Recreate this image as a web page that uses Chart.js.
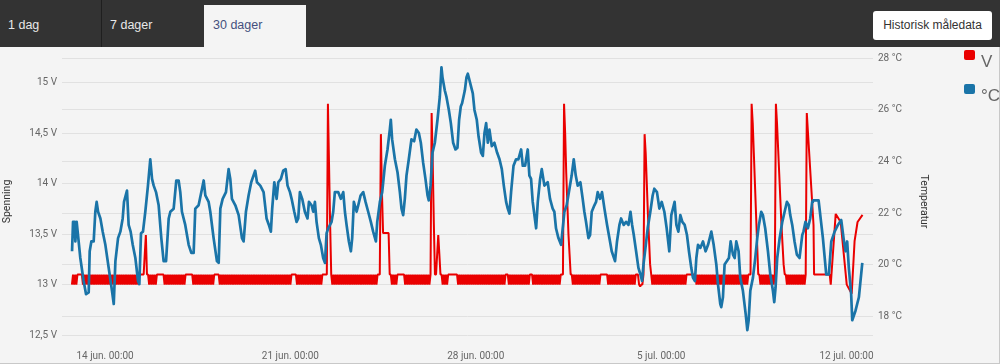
<!DOCTYPE html>
<html>
<head>
<meta charset="utf-8">
<script src="https://cdn.jsdelivr.net/npm/chart.js@4.4.0/dist/chart.umd.min.js"></script>
<style>
  body { margin: 0; width: 1000px; height: 364px; overflow: hidden; position: relative; background: #f4f4f4; font-family: "Liberation Sans", Arial, sans-serif; }
  .topbar { position: absolute; left: 0; top: 0; width: 1000px; height: 47px; background: #333; }
  .tab { position: absolute; top: 0; height: 47px; line-height: 51px; font-size: 12.5px; color: #e8e8e8; }
  .tab.active { top: 5px; height: 42px; line-height: 41px; background: #f4f4f4; color: #45507e; }
  .divider { position: absolute; left: 101px; top: 0; width: 1px; height: 47px; background: #1f1f1f; }
  .btn { position: absolute; left: 873px; top: 11px; width: 119px; height: 29px; background: #fff; border-radius: 3px; font-size: 12px; line-height: 29px; text-align: center; color: #333; }
  .panel { position: absolute; left: 0; top: 47px; width: 999px; height: 316px; border-right: 1px solid #c8c8c8; border-bottom: 1px solid #c8c8c8; }
  .chartbox { position: absolute; left: 0; top: 47px; width: 1000px; height: 317px; }
  #legend { position: absolute; left: 964px; top: 49px; }
  .item { position: relative; height: 34px; }
  .swatch { position: absolute; left: 0; top: 1px; width: 11px; height: 10px; border-radius: 2px; }
  .lbl { position: absolute; left: 17px; top: 3px; font-size: 17px; line-height: 20px; color: #666; white-space: nowrap; }
</style>
</head>
<body>
<div class="topbar">
  <div class="tab" style="left:8px">1 dag</div>
  <div class="divider"></div>
  <div class="tab" style="left:110px">7 dager</div>
  <div class="tab active" style="left:204px;width:93px;padding-left:9px">30 dager</div>
  <div class="btn">Historisk måledata</div>
</div>
<div class="panel"></div>
<div class="chartbox"><canvas id="maaleChart"></canvas></div>
<div id="legend"></div>
<script>
// hours counted from 14 jun. 00:00
const xTickHours = [0, 168, 336, 504, 672];
const xTickLabels = ["14 jun. 00:00", "21 jun. 00:00", "28 jun. 00:00", "5 jul. 00:00", "12 jul. 00:00"];
const voltTicks = [12.5, 13, 13.5, 14, 14.5, 15];
const tempTicks = [18, 20, 22, 24, 26, 28];

const tempHours = [
  -29.9, -29.0, -27.5, -26.9, -25.7, -24.8, -22.4, -19.4, -17.2, -14.8, -13.9, -12.4, -10.3, -8.8, -7.6, -6.3, -4.2, -2.1,
  0.3, 3.3, 6.3, 7.9, 9.4, 11.8, 13.9, 16.0, 17.2, 19.9, 21.4, 23.2, 25.1, 27.5, 29.9, 31.1, 32.6, 34.4, 36.5, 38.9,
  41.0, 42.6, 44.1, 46.2, 48.6, 51.0, 53.1, 55.3, 57.7, 59.2, 62.2, 64.6, 66.7, 68.2, 69.7, 72.7, 75.8, 78.2, 80.3,
  81.8, 84.8, 87.9, 89.4, 90.9, 93.9, 95.4, 98.4, 101.4, 103.0, 104.5, 106.6, 109.6, 112.0, 113.5, 115.0, 118.1,
  121.1, 124.1, 125.6, 127.7, 130.1, 132.5, 136.1, 137.7, 140.7, 143.7,
  146.4, 148.5, 150.3, 151.5, 153.4, 155.5, 157.0, 159.4, 161.5, 163.7, 165.4, 167.6, 169.1, 171.5, 173.6, 175.1,
  176.6, 178.7, 181.1, 183.5, 184.8, 187.2, 188.7, 190.2, 191.7, 193.8, 195.6, 197.7, 199.3, 200.8, 202.3, 205.3,
  206.8, 208.3, 211.3, 213.7, 215.9, 217.4, 218.9, 221.0, 222.8, 224.0, 225.5, 228.0, 229.5, 231.6, 234.0, 236.1,
  238.5, 240.9, 243.0, 245.5, 246.7, 249.1, 251.2, 253.6, 256.0, 258.1, 259.0, 260.2, 262.7, 265.1, 267.2, 268.7,
  270.2, 271.7, 273.2, 275.3, 277.7, 280.1, 282.2, 284.4, 286.2, 288.3, 290.4, 292.3, 293.4, 295.0, 296.8, 298.9,
  301.3, 303.4, 304.9, 305.8, 307.9, 309.4, 311.6, 313.4, 315.5, 317.6, 319.4, 320.9, 322.4, 323.6, 326.1, 327.6,
  328.8, 330.3, 331.8, 333.3, 334.8, 336.9, 338.5, 340.8, 342.4, 343.9, 345.4, 346.9, 348.4, 350.5, 352.9, 355.3,
  357.5, 359.6, 361.4, 363.5, 365.0, 366.5, 368.0, 370.2, 372.5, 374.6, 377.1, 378.6, 380.7, 383.1, 384.6, 386.1,
  387.6, 390.7, 392.2, 394.3, 395.8, 398.2, 401.2, 403.3, 405.7, 407.2, 408.7, 410.9, 413.3, 416.3, 418.4, 420.9,
  422.9, 424.8, 426.6, 428.4, 430.8, 432.9, 434.4, 435.9, 438.1, 439.6, 441.1, 443.5, 445.0, 446.5, 448.6, 450.4,
  452.6, 455.0, 457.1, 459.2, 462.2, 464.0, 466.2, 467.7, 470.1, 472.2, 474.4, 476.2, 477.7, 479.2, 481.3, 483.4,
  485.2, 486.7, 488.0, 489.8, 491.8, 494.2, 496.3, 497.8, 500.2, 502.4, 504.5, 506.9, 509.0, 511.4,
  513.2, 514.7, 516.2, 517.8, 519.6, 521.4, 523.2, 525.3, 527.4, 529.2, 531.3, 532.8, 534.6, 535.9, 537.4, 539.5,
  541.9, 544.3, 546.5, 549.5, 551.6, 554.0, 555.5, 557.6, 558.5, 560.0, 561.5, 563.6, 565.4, 567.0, 569.1, 570.6,
  572.1, 574.2, 575.7, 578.1, 580.6, 582.1, 583.3, 584.8, 587.2, 589.3, 591.1, 592.6, 594.7, 596.2, 598.3, 600.8,
  602.9, 605.3, 606.5, 607.7, 609.2, 611.4, 613.8, 615.9, 618.0, 619.8, 621.0, 622.8, 624.9, 627.0, 629.4, 631.9,
  633.0, 634.8, 637.0, 639.1, 640.9, 641.5, 646.7, 650.6, 653.6, 656.0, 658.2, 661.2, 664.2, 667.2, 669.3, 671.1,
  672.6, 674.1, 676.2, 677.2, 680.2, 683.2, 686.3
];
const tempValues = [
  20.52, 21.66, 21.66, 20.90, 21.66, 21.28, 20.26, 19.37, 18.86, 18.93, 20.52, 20.90, 20.90, 22.05, 22.43, 22.05, 21.79, 21.28,
  20.77, 19.88, 18.99, 18.48, 20.14, 21.03, 21.28, 21.79, 22.43, 22.87, 21.54, 21.28, 20.77, 20.26, 19.37, 19.25, 21.22, 21.28, 22.05, 23.06,
  24.08, 23.32, 23.06, 22.81, 22.30, 21.03, 20.14, 20.14, 21.79, 22.05, 22.17, 23.26, 23.26, 22.81, 22.05, 21.54, 20.77, 20.46, 20.46,
  22.17, 22.30, 22.94, 23.26, 22.68, 22.43, 22.05, 21.03, 20.14, 20.07, 22.17, 22.55, 22.81, 23.70, 23.32, 22.55, 22.30,
  21.92, 21.03, 20.90, 22.05, 22.68, 23.19, 23.64, 23.19, 23.06, 22.81,
  21.79, 21.54, 21.28, 22.17, 23.19, 22.55, 23.19, 23.32, 23.64, 23.70, 23.06, 22.81, 22.55, 22.05, 21.66, 21.79,
  22.81, 22.55, 22.05, 21.79, 22.43, 22.30, 22.05, 22.43, 21.66, 21.03, 20.77, 20.26, 20.07, 21.22, 21.41, 21.66,
  22.05, 22.81, 22.81, 22.55, 22.81, 22.05, 21.54, 20.90, 20.52, 21.03, 22.43, 22.05, 22.30, 22.68, 22.81, 22.43,
  22.05, 21.66, 21.28, 20.90, 21.66, 22.43, 22.81, 23.83, 24.46, 25.23, 25.61, 24.85, 24.08, 23.57, 22.81, 22.17,
  21.92, 22.55, 23.45, 24.08, 24.85, 24.78, 25.23, 25.10, 24.72, 23.95, 23.32, 22.68, 22.49, 23.06, 24.34, 24.72,
  25.61, 26.50, 27.64, 27.26, 26.75, 26.50, 25.99, 25.48, 24.72, 24.46, 24.53, 25.61, 26.12, 26.25, 26.75, 27.26,
  27.39, 27.14, 26.88, 26.63, 25.99, 25.61, 24.97, 24.34, 24.21, 25.10, 25.48, 24.72, 25.23, 24.59, 24.72, 24.34,
  24.08, 23.70, 23.06, 22.43, 22.17, 21.98, 22.81, 23.83, 24.08, 24.08, 24.46, 23.83, 23.83, 24.46, 23.45, 23.32,
  22.43, 21.41, 22.43, 23.32, 23.70, 23.06, 23.19, 22.55, 22.17, 22.05, 21.41, 21.03, 20.77, 22.05, 22.30, 22.94,
  23.45, 24.08, 23.45, 23.06, 23.19, 22.55, 22.05, 21.66, 21.03, 21.15, 22.05, 22.30, 22.43, 22.81, 22.55, 22.81,
  22.17, 21.54, 21.03, 20.52, 20.14, 20.90, 21.54, 21.79, 21.54, 21.66, 21.54, 22.05, 21.54, 21.15, 20.52, 19.88,
  19.63, 19.37, 20.01, 20.65, 21.41, 22.05, 22.68, 22.94, 22.81, 22.17, 22.43, 22.05, 21.41, 20.52,
  21.92, 22.17, 22.43, 21.54, 21.28, 21.92, 21.66, 21.54, 21.15, 20.52, 19.88, 19.50, 19.37, 20.26, 20.77, 20.65,
  20.90, 20.52, 20.77, 21.28, 20.77, 20.01, 19.25, 18.48, 18.36, 18.74, 20.01, 20.14, 20.26, 20.90, 20.39, 20.26,
  20.90, 20.52, 19.50, 18.99, 18.10, 17.47, 17.85, 18.99, 19.50, 20.26, 21.03, 21.54, 22.05, 21.92, 21.41, 20.52,
  19.63, 18.99, 18.55, 19.12, 20.26, 21.03, 21.66, 22.05, 22.43, 22.30, 21.92, 21.54, 20.90, 20.39, 20.26, 21.15,
  21.28, 21.66, 21.41, 21.79, 22.43, 22.49, 22.49, 21.03, 19.63, 19.63, 20.90, 21.28, 21.54, 21.73, 21.03, 20.52,
  20.90, 19.88, 18.86, 17.85, 18.23, 18.74, 20.07
];

// voltage logged every hour from 12 jun. 18:00, then a few sparse readings at the end
const voltStartHour = -30;
const voltStepHours = 1;
const voltValues = [
  13, 13.1, 13, 13.1, 13, 13.1,
  13.1, 13.1, 13.1, 13.1,
  13, 13.1, 13, 13.1, 13, 13.1, 13, 13.1, 13, 13.1, 13, 13.1, 13, 13.1, 13, 13.1,
  13, 13.1, 13, 13.1, 13, 13.1, 13, 13.1, 13, 13.1, 13, 13.1, 13, 13.1, 13, 13.1,
  13, 13.1, 13, 13.1, 13, 13.1, 13, 13.1, 13, 13.1, 13, 13.1, 13, 13.1, 13, 13.1,
  13, 13.1, 13, 13.1,
  13.1, 13.1, 13.1, 13.1,
  13.3, 13.49, 13.1, 13.1,
  13, 13.1, 13, 13.1, 13, 13.1, 13, 13.1,
  13.1, 13.1, 13.1, 13.1, 13.1, 13.1,
  13, 13.1, 13, 13.1, 13, 13.1, 13, 13.1, 13, 13.1, 13, 13.1, 13, 13.1, 13, 13.1, 13, 13.1, 13, 13.1,
  13.1, 13.1, 13.1, 13.1, 13.1, 13.1,
  13, 13.1, 13, 13.1, 13, 13.1, 13, 13.1, 13, 13.1, 13, 13.1, 13, 13.1, 13, 13.1, 13, 13.1, 13, 13.1,
  13.1, 13.1, 13.1, 13.1,
  13, 13.1, 13, 13.1, 13, 13.1, 13, 13.1, 13, 13.1, 13, 13.1, 13, 13.1, 13, 13.1,
  13, 13.1, 13, 13.1, 13, 13.1, 13, 13.1, 13, 13.1, 13, 13.1, 13, 13.1, 13, 13.1,
  13, 13.1, 13, 13.1, 13, 13.1, 13, 13.1, 13, 13.1, 13, 13.1, 13, 13.1, 13, 13.1,
  13, 13.1, 13, 13.1, 13, 13.1, 13, 13.1, 13, 13.1, 13, 13.1, 13, 13.1, 13, 13.1,
  13, 13.1,
  13.1, 13.1, 13.1, 13.1,
  13, 13.1, 13, 13.1, 13, 13.1, 13, 13.1, 13, 13.1, 13, 13.1, 13, 13.1, 13, 13.1,
  13, 13.1, 13, 13.1, 13, 13.1, 13, 13.1,
  13.1, 13.1, 13.1, 13.1,
  14.79, 14.2, 13.6, 13.1,
  13, 13.1, 13, 13.1, 13, 13.1, 13, 13.1, 13, 13.1, 13, 13.1, 13, 13.1, 13, 13.1,
  13, 13.1, 13, 13.1, 13, 13.1, 13, 13.1, 13, 13.1, 13, 13.1, 13, 13.1, 13, 13.1,
  13, 13.1, 13, 13.1, 13, 13.1, 13, 13.1, 13, 13.1,
  13.1, 13.1,
  14.49, 13.9, 13.51, 13.51, 13.51, 13.51, 13.51, 13.51, 13.1,
  13.1,
  13, 13.1, 13, 13.1, 13, 13.1,
  13.1, 13.1, 13.1, 13.1, 13.1, 13.1,
  13, 13.1, 13, 13.1, 13, 13.1, 13, 13.1, 13, 13.1, 13, 13.1, 13, 13.1, 13, 13.1,
  13, 13.1, 13, 13.1, 13, 13.1, 13, 13.1,
  14.7, 14.2, 13.6, 13.1, 13.1, 13.3, 13.49, 13.3, 13.1, 13.1,
  13, 13.1, 13, 13.1, 13, 13.1,
  13.1, 13.1, 13.1, 13.1, 13.1, 13.1, 13.1, 13.1,
  13, 13.1, 13, 13.1, 13, 13.1, 13, 13.1, 13, 13.1, 13, 13.1, 13, 13.1, 13, 13.1,
  13, 13.1, 13, 13.1, 13, 13.1, 13, 13.1, 13, 13.1, 13, 13.1, 13, 13.1, 13, 13.1,
  13, 13.1, 13, 13.1, 13, 13.1, 13, 13.1, 13, 13.1, 13, 13.1,
  13.1, 13.1,
  13, 13.1, 13, 13.1, 13, 13.1, 13, 13.1, 13, 13.1, 13, 13.1, 13, 13.1, 13, 13.1, 13, 13.1, 13, 13.1,
  13.1, 13.1,
  13, 13.1, 13, 13.1, 13, 13.1, 13, 13.1, 13, 13.1, 13, 13.1, 13, 13.1, 13, 13.1,
  13, 13.1, 13, 13.1, 13, 13.1, 13, 13.1, 13, 13.1,
  13.1, 13.1, 14.79, 14.5, 14.1, 13.8, 13.5, 13.3, 13.1, 13.1,
  13, 13.1, 13, 13.1, 13, 13.1, 13, 13.1, 13, 13.1, 13, 13.1, 13, 13.1, 13, 13.1,
  13, 13.1, 13, 13.1, 13, 13.1, 13, 13.1, 13, 13.1,
  13.1, 13.1, 13.1, 13.1, 13.1, 13.1,
  13, 13.1, 13, 13.1, 13, 13.1, 13, 13.1, 13, 13.1, 13, 13.1, 13, 13.1, 13, 13.1,
  13, 13.1, 13, 13.1, 13, 13.1, 13, 13.1, 13, 13.1,
  13.1, 13.1, 13, 12.98, 13, 13, 13.1, 14.49, 14.3, 14, 13.7, 13.45, 13.2, 13.1,
  13, 13.1, 13, 13.1, 13, 13.1, 13, 13.1, 13, 13.1, 13, 13.1, 13, 13.1, 13, 13.1,
  13, 13.1, 13, 13.1, 13, 13.1, 13, 13.1, 13, 13.1, 13, 13.1, 13, 13.1, 13, 13.1,
  13.1, 13.1, 13.1, 13.1, 13.1, 13.1, 13.1, 13.1,
  13, 13.1, 13, 13.1, 13, 13.1, 13, 13.1, 13, 13.1, 13, 13.1, 13, 13.1, 13, 13.1,
  13, 13.1, 13, 13.1, 13, 13.1, 13, 13.1, 13, 13.1, 13, 13.1, 13, 13.1, 13, 13.1,
  13, 13.1, 13, 13.1, 13, 13.1, 13, 13.1, 13, 13.1, 13, 13.1, 13, 13.1, 13, 13.1,
  13.1, 13.1, 14.79, 14.6, 14.3, 14, 13.7, 13.4, 13.1, 13.1,
  13, 13.1, 13, 13.1, 13, 13.1, 13, 13.1, 13, 13.1, 13, 13.1, 13, 13.1,
  14.79, 14.6, 14.35, 14.1, 13.85, 13.6, 13.4, 13.2, 13.1, 13.1,
  13, 13.1, 13, 13.1, 13, 13.1, 13, 13.1, 13, 13.1, 13, 13.1, 13, 13.1, 13, 13.1, 13, 13.1,
  14.7
];
const voltTailHours = [642.1, 642.6, 656.8, 657.7, 662.2, 666.7, 672.2, 676.7, 679.3, 682.0, 686.5];
const voltTailValues = [13.59, 13.1, 13.1, 13.0, 13.70, 13.62, 13.0, 12.91, 13.43, 13.62, 13.69];

const voltColor = "#ea0000";
const tempColor = "#1a74a8";

const voltPoints = voltValues.map((v, i) => ({ x: voltStartHour + i * voltStepHours, y: v }))
    .concat(voltTailHours.map((h, i) => ({ x: h, y: voltTailValues[i] })));
const tempPoints = tempHours.map((h, i) => ({ x: h, y: tempValues[i] }));

const tickFont = { family: "Roboto", size: 10 };
const titleFont = { family: "Roboto", size: 10.5 };

const ctx = document.getElementById("maaleChart").getContext("2d");
const maaleChart = new Chart(ctx, {
    type: "line",
    data: {
        datasets: [{
            label: "V",
            data: voltPoints,
            yAxisID: "yV",
            borderColor: voltColor,
            backgroundColor: voltColor,
            borderWidth: 2,
            borderJoinStyle: "bevel",
            pointRadius: 0,
            tension: 0,
            order: 2
        }, {
            label: "°C",
            data: tempPoints,
            yAxisID: "yT",
            borderColor: tempColor,
            backgroundColor: tempColor,
            borderWidth: 2.7,
            borderJoinStyle: "round",
            pointRadius: 0,
            tension: 0,
            order: 1
        }]
    },
    options: {
        responsive: true,
        maintainAspectRatio: false,
        animation: false,
        layout: { padding: { top: 7, right: 65, left: 0, bottom: 0 } },
        plugins: { legend: { display: false }, tooltip: { enabled: false } },
        scales: {
            x: {
                type: "linear",
                min: -39,
                max: 696,
                grid: { display: false, drawTicks: false },
                border: { display: false },
                afterBuildTicks: axis => { axis.ticks = xTickHours.map(v => ({ value: v })); },
                afterFit: axis => { axis.height = 19; },
                ticks: {
                    color: "#666",
                    font: tickFont,
                    padding: 5,
                    maxRotation: 0,
                    callback: (value, index) => xTickLabels[index]
                }
            },
            yV: {
                position: "left",
                min: 12.402,
                max: 15.244,
                grid: { color: "#e1e1e1", drawTicks: false },
                border: { display: false },
                afterBuildTicks: axis => { axis.ticks = voltTicks.map(v => ({ value: v })); },
                afterFit: axis => { axis.width = 62; },
                ticks: {
                    color: "#666",
                    font: tickFont,
                    padding: 5,
                    callback: value => String(value).replace(".", ",") + " V"
                },
                title: { display: true, text: "Spenning", color: "#333", font: titleFont, padding: { top: 1.5, bottom: 0 } }
            },
            yT: {
                position: "right",
                min: 16.893,
                max: 28,
                grid: { color: "#e1e1e1", drawTicks: false },
                border: { display: false },
                afterBuildTicks: axis => { axis.ticks = tempTicks.map(v => ({ value: v })); },
                afterFit: axis => { axis.width = 62; },
                ticks: {
                    color: "#666",
                    font: tickFont,
                    padding: 5,
                    callback: value => value + " °C"
                },
                title: { display: true, text: "Temperatur", color: "#333", font: titleFont, padding: { top: 5, bottom: 0 } }
            }
        }
    }
});

// legend on the right, built from the datasets
const legendEl = document.getElementById("legend");
maaleChart.data.datasets.forEach(ds => {
    const item = document.createElement("div");
    item.className = "item";
    item.innerHTML = '<div class="swatch" style="background:' + ds.borderColor + '"></div><div class="lbl">' + ds.label + "</div>";
    legendEl.appendChild(item);
});
</script>
</body>
</html>
